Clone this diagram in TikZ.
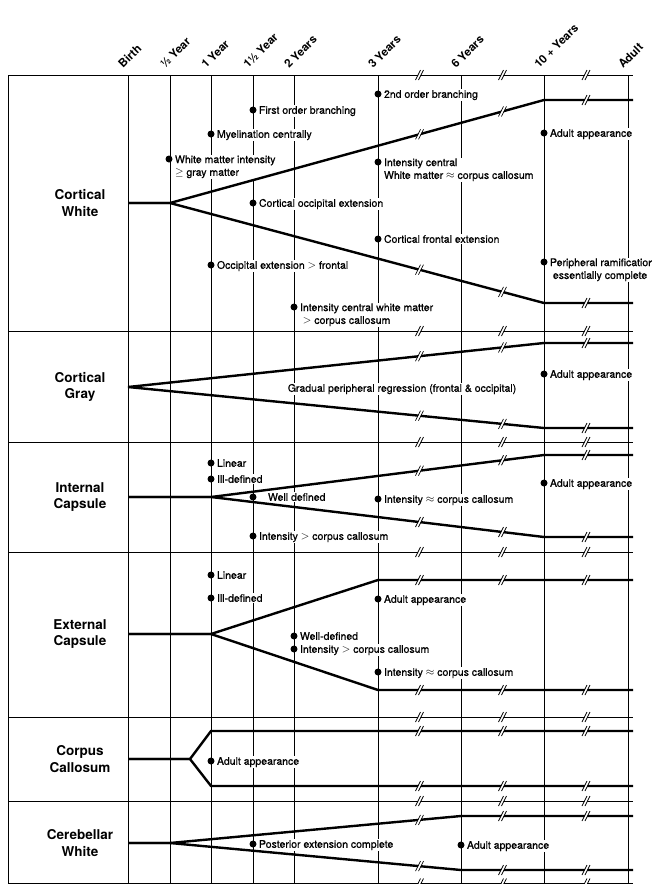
\documentclass[tikz,border=0pt]{standalone}
\usepackage{fontspec}
\setmainfont{TeX Gyre Heros}
\newfontfamily\notefont[FakeBold=0.8]{TeX Gyre Heros}
\tikzset{
  thinline/.style={line width=0.8pt},
  branch/.style={line width=2.4pt},
  note/.style={anchor=base west, fill=white, inner sep=0.8pt, align=left,
    font=\notefont\fontsize{10.5}{12.8}\selectfont},
  notetwo/.style={note, anchor=north west},
  dot/.style={circle, fill, inner sep=0pt, minimum size=7pt},
  rowlabel/.style={align=center, font=\bfseries\fontsize{13.5}{16.5}\selectfont},
  header/.style={rotate=45, anchor=base west, inner sep=0pt,
    font=\bfseries\fontsize{11.5}{13}\selectfont},
  brk/.pic={
    \draw[white, line width=2pt] (-2.5,5) -- (2.5,-5);
    \draw[line width=0.7pt] (-4,5) -- (1,-5) (-1,5) -- (4,-5);
  }
}
\begin{document}
\begin{tikzpicture}[x=1pt, y=-1pt]
  \useasboundingbox (0,0) rectangle (651,884);
  \foreach \x in {8,128,170,211,253,294,378,461,544,628}
    \draw[thinline] (\x,75) -- (\x,884);
  \foreach \y in {75,331,442,552,717,801,883.5}
    \draw[thinline] (8,\y) -- (633,\y);

  \node[header] (birth) at (123,69) {Birth};
  \node[header] (halfyear) at (165,69) {½ Year};
  \node[header] (oneyear) at (206,69) {1 Year};
  \node[header] (onehalf) at (248,69) {1½ Year};
  \node[header] (twoyears) at (289,69) {2 Years};
  \node[header] (threeyears) at (373,69) {3 Years};
  \node[header] (sixyears) at (456,69) {6 Years};
  \node[header] (tenyears) at (539,69) {10 + Years};
  \node[header] (adult) at (623,69) {Adult};

  \node[rowlabel] (cwhite) at (80,203) {Cortical\\White};
  \node[rowlabel] (cgray) at (80,387) {Cortical\\Gray};
  \node[rowlabel] (icaps) at (80,497) {Internal\\Capsule};
  \node[rowlabel] (ecaps) at (80,634) {External\\Capsule};
  \node[rowlabel] (ccall) at (80,759) {Corpus\\Callosum};
  \node[rowlabel] (cbwhite) at (80,843) {Cerebellar\\White};

  \node[note] (cw1) at (258,113.8) {First order branching};
  \node[note] (cw2) at (216,137.8) {Myelination centrally};
  \node[notetwo] (cw3) at (174,154.4) {White matter intensity\\$\geq$ gray matter};
  \node[note] (cw4) at (258,206.8) {Cortical occipital extension};
  \node[note] (cw5) at (216,268.8) {Occipital extension $>$ frontal};
  \node[notetwo] (cw6) at (299,302.4) {Intensity central white matter\\\ $>$ corpus callosum};
  \node[note] (cw7) at (383,97.8) {2nd order branching};
  \node[notetwo] (cw8) at (383,157.4) {Intensity central\\White matter $\approx$ corpus callosum};
  \node[note] (cw9) at (383,242.8) {Cortical frontal extension};
  \node[note] (cw10) at (549,136.8) {Adult appearance};
  \node[notetwo] (cw11) at (549,257.4) {Peripheral ramification\\\ essentially complete};

  \node[note] (cg1) at (549,377.8) {Adult appearance};
  \node[note, anchor=base] (cg2) at (402,391.8) {Gradual peripheral regression (frontal \& occipital)};

  \node[note] (ic1) at (216,466.8) {Linear};
  \node[note] (ic2) at (216,482.8) {Ill-defined};
  \node[note] (ic3) at (267,500.8) {Well defined};
  \node[note] (ic4) at (383,502.8) {Intensity $\approx$ corpus callosum};
  \node[note] (ic5) at (258,539.8) {Intensity $>$ corpus callosum};
  \node[note] (ic6) at (549,486.8) {Adult appearance};

  \node[note] (ec1) at (216,578.8) {Linear};
  \node[note] (ec2) at (216,601.8) {Ill-defined};
  \node[note] (ec3) at (383,602.8) {Adult appearance};
  \node[note] (ec4) at (299,639.8) {Well-defined};
  \node[note] (ec5) at (299,652.8) {Intensity $>$ corpus callosum};
  \node[note] (ec6) at (383,675.8) {Intensity $\approx$ corpus callosum};

  \node[note] (cc1) at (216,764.8) {Adult appearance};

  \node[note] (cb1) at (258,847.8) {Posterior extension complete};
  \node[note] (cb2) at (466,848.8) {Adult appearance};

  \coordinate (cwfork) at (170,203);
  \coordinate (cgfork) at (128,387);
  \coordinate (icfork) at (211,497);
  \coordinate (ecfork) at (211,634);
  \coordinate (ccfork) at (190,759);
  \coordinate (cbfork) at (170,843);
  \draw[branch] (128,203) -- (cwfork) -- (544,100) -- (633,100);
  \draw[branch] (128,203) -- (cwfork) -- (544,303) -- (633,303);
  \draw[branch] (cgfork) -- (544,343) -- (633,343);
  \draw[branch] (cgfork) -- (544,428) -- (633,428);
  \draw[branch] (128,497) -- (icfork) -- (544,455) -- (633,455);
  \draw[branch] (128,497) -- (icfork) -- (544,537) -- (633,537);
  \draw[branch] (128,634) -- (ecfork) -- (378,580) -- (633,580);
  \draw[branch] (128,634) -- (ecfork) -- (378,690) -- (633,690);
  \draw[branch] (128,759) -- (ccfork) -- (211,731) -- (633,731);
  \draw[branch] (128,759) -- (ccfork) -- (211,786) -- (633,786);
  \draw[branch] (128,843) -- (cbfork) -- (461,816) -- (633,816);
  \draw[branch] (128,843) -- (cbfork) -- (461,870) -- (633,870);

  \foreach \y in {75,331,442,552,580,690,717,731,786,801,883.5}
    \foreach \x in {419.5,502.5,586}
      \pic at (\x,\y) {brk};
  \foreach \p in {(419.5,134.3),(502.5,111.4),(586,100),
                  (419.5,269.7),(502.5,291.9),(586,303),
                  (419.5,356.2),(502.5,347.4),(586,343),
                  (419.5,415.7),(502.5,423.9),(586,428),
                  (419.5,470.7),(502.5,460.2),(586,455),
                  (419.5,522),(502.5,532),(586,537),
                  (419.5,819.9),(502.5,816),(586,816),
                  (419.5,866.1),(502.5,870),(586,870)}
    \pic at \p {brk};

  \foreach \p [count=\i] in {(253,110),(211,134),(169,159),(253,203),(211,265),
                  (294,307),(378,94),(378,162),(378,239),(544,133),(544,262),
                  (544,374),(211,463),(211,479),(253,497),(378,499),(253,536),
                  (544,483),(211,575),(211,598),(378,599),(294,636),(294,649),
                  (378,672),(211,761),(253,844),(461,845)}
    \node[dot] (dot\i) at \p {};
\end{tikzpicture}
\end{document}
